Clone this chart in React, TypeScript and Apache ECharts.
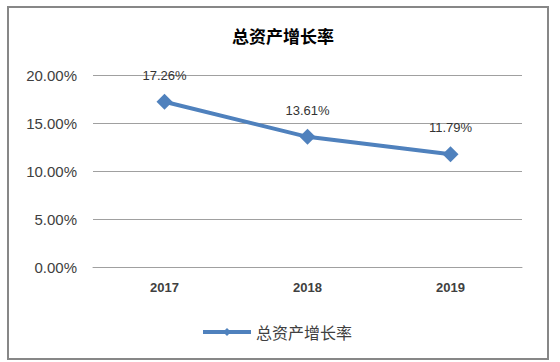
import React, { useEffect, useRef } from "react";
import * as echarts from "echarts";

const categories = ["2017", "2018", "2019"];
const seriesName = "总资产增长率";
const values = [17.26, 13.61, 11.79];
const yTicks = { min: 0, max: 20, interval: 5 };
const titleText = "总资产增长率";

const FONT = "'Liberation Sans', Arial, 'Noto Sans CJK SC', sans-serif";

export default function App() {
  const ref = useRef<HTMLDivElement>(null);
  useEffect(() => {
    if (!ref.current) return;
    const chart = echarts.init(ref.current, undefined, { renderer: "svg" });
    chart.setOption({
      animation: false,
      backgroundColor: "#ffffff",
      title: {
        text: titleText,
        left: 278,
        textAlign: "center",
        top: 22,
        textStyle: {
          fontFamily: "'Noto Sans CJK SC', sans-serif",
          fontSize: 17,
          fontWeight: "bold",
          color: "#000000",
        },
      },
      graphic: [
        {
          type: "rect",
          shape: { x: 8, y: 7, width: 540, height: 352 },
          style: { fill: "none", stroke: "#878787", lineWidth: 2 },
          silent: true,
        },
      ],
      legend: {
        data: [seriesName],
        left: 196,
        top: 319,
        itemWidth: 48,
        itemHeight: 10,
        itemGap: 6,
        lineStyle: { width: 4 },
        textStyle: {
          fontFamily: "'Noto Sans CJK SC', sans-serif",
          fontSize: 16,
          color: "#404040",
        },
      },
      grid: { left: 93, right: 38, top: 75.5, bottom: 94.5 },
      xAxis: {
        type: "category",
        data: categories,
        axisLine: { show: true, lineStyle: { color: "#A0A0A0", width: 1 } },
        axisTick: { show: false },
        axisLabel: {
          margin: 13,
          fontFamily: FONT,
          fontSize: 13,
          fontWeight: "bold",
          color: "#404040",
        },
      },
      yAxis: {
        type: "value",
        min: yTicks.min,
        max: yTicks.max,
        interval: yTicks.interval,
        axisLine: { show: false },
        axisTick: { show: false },
        splitLine: { lineStyle: { color: "#A0A0A0", width: 1 } },
        axisLabel: {
          margin: 16,
          fontFamily: FONT,
          fontSize: 15,
          color: "#404040",
          formatter: (v: number) => v.toFixed(2) + "%",
        },
      },
      series: [
        {
          name: seriesName,
          type: "line",
          data: values,
          symbol: "diamond",
          symbolSize: 16,
          lineStyle: { color: "#4F81BD", width: 4 },
          itemStyle: { color: "#4F81BD" },
          label: {
            show: true,
            position: "top",
            distance: 12,
            fontFamily: FONT,
            fontSize: 13,
            color: "#333333",
            formatter: (p: any) => p.value.toFixed(2) + "%",
          },
        },
      ],
    });
    return () => chart.dispose();
  }, []);
  return (
    <div
      ref={ref}
      style={{ position: "absolute", left: 0, top: 0, width: 560, height: 362 }}
    />
  );
}
